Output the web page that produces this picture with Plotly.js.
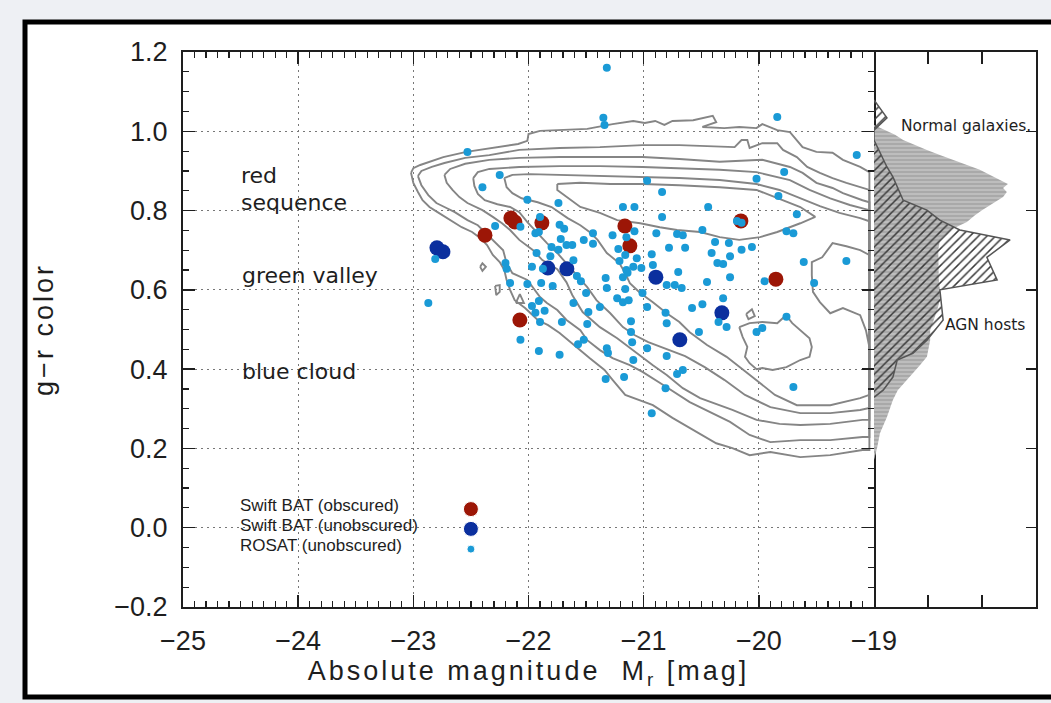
<!DOCTYPE html>
<html><head><meta charset="utf-8">
<script src="https://cdn.plot.ly/plotly-3.0.1.min.js"></script>
<style>html,body{margin:0;padding:0;background:#eef0f4;}#chart{width:1051px;height:703px;}
.xtitle,.ytitle{letter-spacing:3px;}</style>
</head><body><div id="chart"></div>
<script>
// ---------------- DATA ----------------
// Swift BAT obscured (red)
const redX = [-22.378,-22.153,-22.118,-21.884,-21.163,-21.120,-20.156,-19.852,-22.075];
const redY = [0.738,0.781,0.771,0.769,0.761,0.711,0.774,0.627,0.524];
// Swift BAT unobscured (dark blue)
const blueX = [-22.795,-22.743,-21.832,-21.667,-20.894,-20.321,-20.686];
const blueY = [0.706,0.696,0.655,0.653,0.632,0.542,0.474];
// ROSAT unobscured (cyan)
const cyanX = [-21.32,-21.35,-21.34,-19.84,-22.53,-19.15,-22.25,-19.78,-20.97,-20.02,
-22.40,-20.84,-19.83,-22.01,-21.74,-21.18,-21.08,-20.44,-19.67,-21.90,
-20.84,-22.29,-22.07,-21.73,-21.69,-20.19,-20.15,-19.76,-19.70,-21.94,
-21.91,-21.44,-21.27,-21.08,-21.15,-20.89,-20.71,-20.66,-20.49,-21.72,
-21.52,-21.44,-20.38,-20.26,-21.67,-21.62,-21.80,-21.74,-21.22,-20.78,
-20.64,-20.41,-20.25,-20.15,-20.06,-21.93,-21.81,-21.61,-21.21,-21.16,
-21.06,-20.93,-20.92,-20.36,-20.31,-19.61,-19.24,-22.20,-22.19,-21.97,
-21.875,-21.15,-21.09,-21.02,-20.70,-20.25,-19.95,-19.52,-22.81,-22.01,
-21.89,-21.79,-22.16,-21.58,-21.545,-21.33,-21.18,-21.14,-20.80,-20.73,
-20.67,-20.45,-21.32,-21.16,-21.50,-22.87,-21.91,-21.97,-21.94,-21.90,
-21.86,-21.71,-21.61,-21.48,-21.49,-21.38,-21.18,-21.13,-21.01,-21.23,
-20.97,-20.81,-20.80,-20.58,-20.49,-20.52,-20.31,-20.35,-20.28,-20.02,
-19.97,-19.76,-21.11,-21.11,-21.10,-22.07,-21.91,-21.73,-21.57,-21.52,
-21.32,-21.31,-20.97,-21.09,-20.80,-20.66,-20.71,-21.33,-21.17,-20.81,
-20.93,-19.70];
const cyanY = [1.160,1.034,1.016,1.036,0.948,0.940,0.890,0.897,0.875,0.880,
0.859,0.847,0.837,0.827,0.819,0.809,0.809,0.809,0.791,0.784,
0.784,0.761,0.759,0.764,0.754,0.774,0.769,0.748,0.743,0.743,
0.746,0.743,0.738,0.748,0.733,0.743,0.741,0.738,0.751,0.728,
0.726,0.716,0.721,0.718,0.713,0.713,0.708,0.701,0.703,0.706,
0.706,0.693,0.685,0.701,0.708,0.693,0.685,0.675,0.673,0.688,
0.680,0.690,0.663,0.668,0.665,0.670,0.673,0.668,0.653,0.658,
0.653,0.650,0.658,0.655,0.645,0.632,0.622,0.617,0.678,0.615,
0.617,0.610,0.617,0.635,0.622,0.630,0.632,0.643,0.612,0.612,
0.605,0.620,0.605,0.602,0.592,0.567,0.572,0.559,0.542,0.519,
0.547,0.519,0.567,0.544,0.514,0.557,0.569,0.574,0.592,0.579,
0.557,0.542,0.516,0.554,0.564,0.494,0.579,0.519,0.506,0.494,
0.504,0.532,0.521,0.494,0.468,0.474,0.446,0.436,0.463,0.474,
0.453,0.441,0.453,0.423,0.433,0.398,0.388,0.375,0.380,0.352,
0.289,0.355];

// Normal-galaxy density contours, outermost first
const level1X = [-23.02,-23.00,-22.94,-22.86,-22.74,-22.54,-22.25,-22.09,-22.01,-22.00,-21.90,-21.73,-21.49,-21.27,-21.09,-20.99,-20.90,-20.82,-20.75,-20.57,-20.40,-20.37,-20.49,-20.30,-20.17,-20.02,-19.97,-19.91,-19.84,-19.73,-19.67,-19.62,-19.50,-19.36,-19.27,-19.12,-19.04,
 -19.04,-19.10,-19.38,-19.64,-19.90,-20.08,-20.23,-20.37,-20.57,-20.75,-20.92,-21.05,-21.16,-21.27,-21.34,-21.47,-21.57,-21.66,-21.73,-21.83,-21.92,-22.03,-22.12,-22.16,-22.19,-22.21,-22.25,-22.31,-22.36,-22.42,-22.49,-22.58,-22.70,-22.79,-22.86,-22.92,-22.96,-23.00,-23.02];
const level1Y = [0.895,0.907,0.915,0.923,0.935,0.948,0.960,0.968,0.976,0.993,1.001,1.003,1.006,1.018,1.026,1.021,1.026,1.016,1.026,1.028,1.039,1.023,1.011,1.008,1.011,1.008,1.018,1.011,1.003,0.998,0.978,0.960,0.948,0.946,0.928,0.910,0.897,
 0.196,0.196,0.183,0.178,0.191,0.183,0.201,0.213,0.246,0.277,0.309,0.322,0.335,0.373,0.398,0.428,0.453,0.473,0.491,0.511,0.524,0.554,0.574,0.600,0.625,0.650,0.670,0.688,0.713,0.731,0.746,0.758,0.781,0.796,0.809,0.826,0.847,0.870,0.895];
const level2X = [-22.96,-22.93,-22.84,-22.73,-22.55,-22.34,-22.08,-21.94,-21.73,-21.38,-21.01,-20.69,-20.43,-20.21,-20.15,-20.10,-20.08,-19.97,-19.84,-19.79,-19.67,-19.58,-19.47,-19.36,-19.24,-19.10,-19.04,
 -19.04,-19.10,-19.38,-19.64,-19.90,-20.08,-20.25,-20.43,-20.60,-20.83,-21.01,-21.12,-21.27,-21.38,-21.49,-21.55,-21.67,-21.75,-21.84,-21.90,-21.96,-22.01,-22.14,-22.19,-22.22,-22.31,-22.40,-22.44,-22.53,-22.64,-22.73,-22.80,-22.87,-22.93,-22.96];
const level2Y = [0.887,0.900,0.910,0.920,0.933,0.940,0.953,0.955,0.958,0.960,0.965,0.965,0.963,0.960,0.978,0.978,0.958,0.970,0.970,0.953,0.935,0.910,0.895,0.882,0.870,0.857,0.852,
 0.229,0.229,0.221,0.221,0.216,0.234,0.267,0.292,0.317,0.360,0.393,0.410,0.428,0.448,0.473,0.498,0.524,0.549,0.567,0.582,0.607,0.625,0.642,0.667,0.700,0.726,0.751,0.763,0.776,0.796,0.809,0.819,0.839,0.864,0.887];
const level3X = [-22.73,-22.68,-22.55,-22.34,-22.08,-21.73,-21.38,-21.01,-20.69,-20.34,-19.97,-19.73,-19.62,-19.50,-19.36,-19.27,-19.10,-19.04,
 -19.04,-19.10,-19.38,-19.64,-19.82,-20.02,-20.23,-20.51,-20.66,-20.80,-20.92,-21.09,-21.23,-21.38,-21.53,-21.62,-21.67,-21.75,-21.88,-21.96,-22.08,-22.16,-22.23,-22.31,-22.40,-22.53,-22.60,-22.66,-22.71,-22.73];
const level3Y = [0.890,0.905,0.918,0.928,0.933,0.935,0.935,0.935,0.930,0.923,0.928,0.910,0.895,0.870,0.857,0.844,0.826,0.821,
 0.272,0.272,0.262,0.259,0.262,0.272,0.297,0.327,0.352,0.385,0.410,0.448,0.478,0.506,0.544,0.587,0.619,0.652,0.675,0.700,0.726,0.751,0.768,0.784,0.801,0.819,0.834,0.852,0.870,0.890];
const level4X = [-22.48,-22.44,-22.34,-22.08,-21.73,-21.38,-21.01,-20.69,-20.34,-20.02,-19.73,-19.56,-19.38,-19.21,-19.04,
 -19.04,-19.12,-19.38,-19.64,-19.90,-20.12,-20.30,-20.47,-20.64,-20.82,-20.96,-21.08,-21.18,-21.29,-21.41,-21.49,-21.58,-21.67,-21.75,-21.84,-21.93,-22.01,-22.08,-22.16,-22.27,-22.38,-22.44,-22.47,-22.48];
const level4Y = [0.882,0.897,0.905,0.910,0.912,0.912,0.910,0.907,0.903,0.897,0.877,0.852,0.831,0.814,0.801,
 0.302,0.297,0.289,0.289,0.304,0.335,0.373,0.405,0.433,0.453,0.468,0.486,0.506,0.541,0.574,0.607,0.637,0.667,0.693,0.718,0.746,0.771,0.796,0.809,0.816,0.826,0.842,0.862,0.882];
const level5X = [-22.21,-22.14,-21.99,-21.73,-21.38,-21.01,-20.69,-20.34,-20.02,-19.82,-19.64,-19.47,-19.30,-19.12,-19.04,
 -19.04,-19.12,-19.24,-19.36,-19.45,-19.54,-19.54,-19.53,-19.47,-19.38,-19.27,-19.12,-19.07,-19.04,
 -19.04,-19.12,-19.38,-19.67,-19.86,-19.99,-20.14,-20.28,-20.45,-20.60,-20.69,-20.80,-20.92,-21.03,-21.12,-21.16,-21.21,-21.32,-21.40,-21.47,-21.55,-21.66,-21.80,-21.92,-22.06,-22.14,-22.19,-22.21];
const level5Y = [0.882,0.890,0.892,0.890,0.887,0.885,0.882,0.877,0.867,0.852,0.831,0.811,0.794,0.781,0.773,
 0.688,0.700,0.710,0.718,0.682,0.670,0.637,0.595,0.569,0.541,0.554,0.536,0.498,0.456,
 0.335,0.327,0.309,0.309,0.335,0.365,0.398,0.431,0.461,0.493,0.519,0.541,0.569,0.592,0.617,0.642,0.667,0.693,0.726,0.746,0.763,0.781,0.809,0.821,0.831,0.844,0.859,0.882];
const level6X = [-21.75,-21.55,-21.29,-21.01,-20.69,-20.34,-20.02,-19.79,-19.64,-19.51,-19.64,-19.84,-19.99,-20.17,-20.34,-20.51,-20.71,-20.86,-21.03,-21.23,-21.38,-21.55,-21.67,-21.75,-21.75];
const level6Y = [0.867,0.870,0.867,0.867,0.864,0.859,0.852,0.826,0.809,0.784,0.768,0.746,0.733,0.726,0.733,0.746,0.751,0.758,0.768,0.776,0.794,0.809,0.834,0.852,0.867];
// island of the highest level in the blue cloud
const islandX = [-20.17,-20.08,-19.97,-19.84,-19.79,-19.75,-19.71,-19.64,-19.56,-19.54,-19.56,-19.64,-19.76,-19.88,-19.97,-20.02,-20.08,-20.12,-20.10,-20.14,-20.17];
const islandY = [0.506,0.516,0.519,0.516,0.529,0.531,0.516,0.498,0.478,0.456,0.431,0.423,0.405,0.398,0.403,0.400,0.415,0.431,0.456,0.481,0.506];
// tiny contour islands
const tinyX = [-22.42,-22.40,-22.37,-22.40,-22.42,null,-22.29,-22.25,-22.25,-22.28,-22.29,null,-22.11,-22.075,-22.04,-22.11,null,-20.11,-20.06,-20.035,-20.09,-20.11];
const tinyY = [0.658,0.667,0.658,0.648,0.658,null,0.610,0.612,0.595,0.587,0.610,null,0.567,0.589,0.567,0.567,null,0.539,0.551,0.534,0.526,0.539];

// Side histograms (g-r colour distribution)
const normY = [1.016,1.003,0.991,0.978,0.965,0.953,0.940,0.928,0.915,0.903,0.890,0.877,0.867,0.857,0.847,0.834,0.819,0.801,0.788,0.771,0.751,0.726,0.700,0.675,0.650,0.625,0.600,0.574,0.549,0.524,0.498,0.473,0.448,0.431,0.410,0.390,0.365,0.347,0.322,0.279,0.238,0.203,0.171];
const normN = [0,0.22,0.39,0.54,0.76,0.98,1.22,1.46,1.70,1.96,2.15,2.33,2.48,2.39,2.46,2.39,2.20,2.00,1.87,1.72,1.41,1.22,1.19,1.19,1.19,1.20,1.22,1.22,1.17,1.11,1.04,1.04,1.00,0.98,0.85,0.72,0.54,0.44,0.35,0.24,0.11,0.06,0];
const agnY = [1.079,1.034,1.003,0.978,0.910,0.885,0.826,0.801,0.776,0.751,0.726,0.682,0.625,0.600,0.524,0.473,0.440,0.423,0.380,0.347,0.329];
const agnN = [0,0.24,0,0,0.24,0.35,0.54,0.98,1.22,1.59,2.52,2.09,2.28,1.22,1.28,0.98,0.72,0.43,0.35,0.17,0];

const xTicks = [-25,-24,-23,-22,-21,-20,-19];
const xTickText = ['\u221225','\u221224','\u221223','\u221222','\u221221','\u221220','\u221219'];
const yTicks = [-0.2,0,0.2,0.4,0.6,0.8,1.0,1.2];
const yTickText = ['\u22120.2','0.0','0.2','0.4','0.6','0.8','1.0','1.2'];
const legendLabels = ['Swift BAT (obscured)','Swift BAT (unobscured)','ROSAT (unobscured)'];

// ---------------- STYLE ----------------
const INK = '#1e1e1e';
const RED = '#9c1606', BLUE = '#0b2f9e', CYAN = '#1a9ad6';
const CONT = '#858585';
const SANS = '"Liberation Sans", Arial, sans-serif';
const tickFont = {family:SANS, size:27, color:INK};
const labFont = {family:'"DejaVu Sans", sans-serif', size:22, color:INK};
const legFont = {family:SANS, size:17, color:INK};
const histFont = {family:'"DejaVu Sans", sans-serif', size:15.5, color:INK};

const traces = [];
// histograms (panel 2)
traces.push({x:normN, y:normY, xaxis:'x2', yaxis:'y2', mode:'lines', fill:'tozerox',
  line:{width:0, color:'#aaaaaa'}, fillcolor:'#aaaaaa',
  fillpattern:{shape:'-', bgcolor:'#a9a9a9', fgcolor:'#c6c6c6', size:4, solidity:0.35},
  hoverinfo:'skip'});
traces.push({x:agnN, y:agnY, xaxis:'x2', yaxis:'y2', mode:'lines', fill:'tozerox',
  line:{width:1.5, color:'#555555'}, fillcolor:'rgba(0,0,0,0)',
  fillpattern:{shape:'/', bgcolor:'rgba(0,0,0,0)', fgcolor:'#3a3a3a', size:6, solidity:0.25},
  hoverinfo:'skip'});
// contours
[[level1X,level1Y],[level2X,level2Y],[level3X,level3Y],[level4X,level4Y],[level5X,level5Y],[level6X,level6Y],[islandX,islandY],[tinyX,tinyY]].forEach(c=>{
  traces.push({x:c[0], y:c[1], mode:'lines', line:{color:CONT, width:1.9}, hoverinfo:'skip', connectgaps:false});
});
// sources
traces.push({x:redX, y:redY, mode:'markers', marker:{color:RED, size:15, opacity:1}, name:legendLabels[0]});
traces.push({x:blueX, y:blueY, mode:'markers', marker:{color:BLUE, size:15, opacity:1}, name:legendLabels[1]});
traces.push({x:cyanX, y:cyanY, mode:'markers', marker:{color:CYAN, size:8, opacity:1}, name:legendLabels[2]});
// legend symbols
traces.push({x:[-22.50,-22.50,-22.50], y:[0.047,-0.003,-0.054], mode:'markers',
  marker:{color:[RED,BLUE,CYAN], size:[15,15,8], opacity:1}, hoverinfo:'skip'});

const W=1051, H=703, L=183, R=15, T=52, B=96;
const pw = W-L-R, ph = H-T-B;
const px = v => (v-L)/pw, py = v => (H-B-v)/ph;
const split = px(874);

const axBase = {showline:true, linecolor:INK, linewidth:2, zeroline:false, ticks:'inside', tickcolor:INK, tickwidth:1.5};

const layout = {
  width:W, height:H, margin:{l:L, r:R, t:T, b:B, autoexpand:false},
  paper_bgcolor:'#eef0f4', plot_bgcolor:'rgba(0,0,0,0)', showlegend:false,
  xaxis:Object.assign({}, axBase, {domain:[0, split], range:[-25,-19], anchor:'y',
    tickvals:xTicks, ticktext:xTickText, ticklen:12, mirror:'allticks',
    showgrid:true, gridcolor:'#777777', gridwidth:1, griddash:'2px,4px',
    minor:{dtick:0.1, tick0:-25, ticklen:6, ticks:'inside', tickcolor:INK, tickwidth:1.2, showgrid:false},
    tickfont:tickFont, ticklabelstandoff:9,
    title:{text:'Absolute magnitude&nbsp; M<sub>r</sub> [mag]', font:{family:SANS, size:27, color:INK}, standoff:4}}),
  yaxis:Object.assign({}, axBase, {domain:[0,1], range:[-0.2,1.2], anchor:'x',
    tickvals:yTicks, ticktext:yTickText, ticklen:12, mirror:'allticks',
    showgrid:true, gridcolor:'#777777', gridwidth:1, griddash:'2px,4px',
    minor:{dtick:0.05, tick0:0, ticklen:6, ticks:'inside', tickcolor:INK, tickwidth:1.2, showgrid:false},
    tickfont:tickFont, ticklabelstandoff:8,
    title:{text:'g\u2212r color', font:{family:SANS, size:27, color:INK}, standoff:53}}),
  xaxis2:Object.assign({}, axBase, {domain:[split,1], range:[0,3], anchor:'y2',
    tickvals:[1,2], ticklen:12, mirror:'ticks', showticklabels:false, showgrid:false}),
  yaxis2:Object.assign({}, axBase, {domain:[0,1], range:[-0.2,1.2], anchor:'x2', side:'right',
    tickvals:yTicks, ticklen:10, showticklabels:false, showgrid:false}),
  shapes:[
    {type:'rect', xref:'paper', yref:'paper', x0:px(25), x1:px(1062), y0:py(697), y1:py(22),
     line:{color:'#000', width:5}, fillcolor:'#ffffff', layer:'below'}
  ],
  annotations:[
    {xref:'x', yref:'y', x:-24.505, y:0.855, text:'red', showarrow:false, xanchor:'left', yanchor:'bottom', borderpad:0, font:labFont},
    {xref:'x', yref:'y', x:-24.505, y:0.855, text:'sequence', showarrow:false, xanchor:'left', yanchor:'top', borderpad:0, font:labFont},
    {xref:'x', yref:'y', x:-24.505, y:0.637, text:'green valley', showarrow:false, xanchor:'left', yanchor:'middle', font:labFont},
    {xref:'x', yref:'y', x:-24.505, y:0.395, text:'blue cloud', showarrow:false, xanchor:'left', yanchor:'middle', font:labFont},
    {xref:'x', yref:'y', x:-24.51, y:0.057, text:legendLabels[0], showarrow:false, xanchor:'left', yanchor:'middle', borderpad:0, font:legFont},
    {xref:'x', yref:'y', x:-24.51, y:0.006, text:legendLabels[1], showarrow:false, xanchor:'left', yanchor:'middle', borderpad:0, font:legFont},
    {xref:'x', yref:'y', x:-24.51, y:-0.045, text:legendLabels[2], showarrow:false, xanchor:'left', yanchor:'middle', borderpad:0, font:legFont},
    {xref:'x2', yref:'y2', x:0.47, y:1.013, text:'Normal galaxies.', showarrow:false, xanchor:'left', yanchor:'middle', font:histFont},
    {xref:'x2', yref:'y2', x:1.27, y:0.511, text:'AGN hosts', showarrow:false, xanchor:'left', yanchor:'middle', font:histFont}
  ]
};

Plotly.newPlot('chart', traces, layout, {displayModeBar:false, staticPlot:true});
</script></body></html>
